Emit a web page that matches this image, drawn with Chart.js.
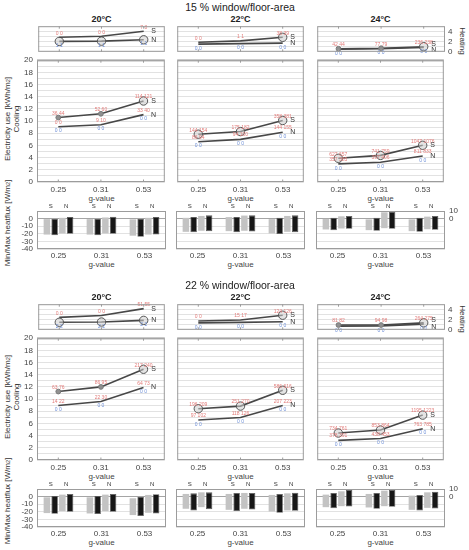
<!DOCTYPE html>
<html>
<head>
<meta charset="utf-8">
<script src="https://cdn.jsdelivr.net/npm/chart.js@4.4.1/dist/chart.umd.min.js"></script>
<style>
body { margin: 0; background: #fff; font-family: "Liberation Sans", Arial, sans-serif; color: #333; }
#page { position: relative; width: 469px; height: 550px; overflow: hidden; }
canvas { position: absolute; }
.t { position: absolute; white-space: nowrap; line-height: 1; transform: translate(-50%, -50%); }
.rl { transform: translate(-50%, -50%) rotate(-90deg); }
.rr { transform: translate(-50%, -50%) rotate(90deg); }
sup { font-size: 70%; vertical-align: 40%; line-height: 0; }
</style>
</head>
<body>
<div id="page"></div>
<script>
const gValues = ['0.25', '0.31', '0.53'];
const temps = ['20°C', '22°C', '24°C'];
const setTitles = ['15 % window/floor-area', '22 % window/floor-area'];

// heating [temp][g], kWh/m2
const heatS15 = [[2.83, 3.04, 4.0], [1.87, 2.13, 2.83], [0.59, 0.69, 1.0]];
const heatN15 = [[2.03, 2.08, 2.35], [1.5, 1.6, 1.7], [0.53, 0.6, 0.85]];
const heatS22 = [[2.43, 2.8, 4.13], [1.73, 1.9, 2.85], [0.93, 0.93, 1.36]];
const heatN22 = [[1.47, 1.52, 1.84], [1.36, 1.45, 1.57], [0.72, 0.77, 1.1]];

// cooling [temp][g], kWh/m2
const coolS15 = [[10.58, 11.2, 13.3], [7.85, 8.28, 10.1], [3.89, 4.37, 6.03]];
const coolN15 = [[9.08, 9.4, 11.06], [6.62, 7.0, 8.17], [2.97, 3.25, 4.26]];
const coolS22 = [[11.24, 12.0, 14.9], [8.42, 8.85, 11.45], [4.43, 4.92, 7.37]];
const coolN22 = [[8.96, 9.6, 11.9], [6.57, 6.99, 8.96], [3.22, 3.54, 5.13]];

// small point labels
const heatRed15 = [['0 0', '0 0', '7 8'], ['0 0', '1 1', '38 39'], ['42 44', '77 79', '236 238']];
const heatBlue15 = [['1 1', '1 1', '1 1'], ['0 0', '0 0', '0 0'], ['0 0', '0 0', '0 0']];
const heatRed22 = [['0 0', '0 0', '51 55'], ['0 0', '15 17', '124 126'], ['81 82', '94 98', '264 275']];
const heatBlue22 = [['2 2', '2 2', '2 2'], ['0 0', '0 0', '0 0'], ['0 0', '0 0', '0 0']];
const coolRedS15 = [['36 44', '52 60', '114 121'], ['144 154', '175 182', '358 381'], ['627 657', '741 759', '1047 1076']];
const coolRedN15 = [['0 0', '9 10', '33 40'], ['86 94', '94 100', '144 155'], ['357 385', '397 406', '811 833']];
const coolBlue15 = [['0 0', '0 0', '0 0'], ['0 0', '0 0', '0 0'], ['0 0', '0 0', '0 0']];
const coolRedS22 = [['63 76', '86 95', '217 240'], ['196 209', '251 270', '586 616'], ['734 761', '853 864', '1195 1223']];
const coolRedN22 = [['14 22', '22 30', '64 73'], ['97 102', '118 126', '207 223'], ['378 391', '438 453', '763 785']];
const coolBlue22 = [['0 0', '0 0', '0 0'], ['0 0', '0 0', '0 0'], ['0 0', '0 0', '0 0']];

// min/max heatflux [temp][g] = [min, max], W/m2
const fluxGrayS15 = [[[-21, 0], [-21, 0], [-22.5, -1]], [[-17.4, 1], [-16.5, 2], [-19.5, 0]], [[-14.3, -0.4], [-15.2, -1], [-16.5, -1]]];
const fluxBlackS15 = [[[-22, 0], [-22, 0], [-24, 0]], [[-18, 2], [-18, 2], [-20.4, 1]], [[-15.2, 1], [-16, 1], [-17.4, 1]]];
const fluxGrayN15 = [[[-19.5, 1], [-19.5, 1.5], [-21, 1]], [[-16, 3.5], [-16, 4], [-17.4, 3.5]], [[-13, 3], [-12.6, 8.3], [-14, 2.6]]];
const fluxBlackN15 = [[[-20, 2], [-20, 2.5], [-21, 2]], [[-16.5, 4.3], [-17, 4.3], [-17.8, 4.3]], [[-13.5, 3.5], [-13.5, 9], [-14.8, 3.5]]];
const fluxGrayS22 = [[[-21.7, -0.9], [-22.2, -0.9], [-24.3, -2.2]], [[-16, 3.5], [-17.4, 3.5], [-19.6, 2.2]], [[-13.9, 2.6], [-14.3, 3.5], [-17.4, 1.3]]];
const fluxBlackS22 = [[[-22.6, 0.9], [-23, 0.9], [-25.6, 0]], [[-18.2, 4.3], [-19.1, 4.8], [-21.3, 3.5]], [[-15.2, 4.8], [-16, 4.8], [-18.2, 2.2]]];
const fluxGrayN22 = [[[-19.1, 2.6], [-19.1, 2.6], [-21.3, 2.2]], [[-13.9, 5.6], [-16, 4.8], [-18.2, 4.3]], [[-12.6, 7], [-12.6, 7.8], [-14.8, 5.6]]];
const fluxBlackN22 = [[[-20, 3.5], [-20, 3.5], [-22.2, 3]], [[-16.5, 5.6], [-17, 4.8], [-18.7, 5.2]], [[-13, 8.7], [-13.5, 8.7], [-15.6, 6.5]]];

const heatS = [heatS15, heatS22], heatN = [heatN15, heatN22];
const coolS = [coolS15, coolS22], coolN = [coolN15, coolN22];
const heatRed = [heatRed15, heatRed22], heatBlue = [heatBlue15, heatBlue22];
const coolRedS = [coolRedS15, coolRedS22], coolRedN = [coolRedN15, coolRedN22], coolBlue = [coolBlue15, coolBlue22];
const fluxGrayS = [fluxGrayS15, fluxGrayS22], fluxBlackS = [fluxBlackS15, fluxBlackS22];
const fluxGrayN = [fluxGrayN15, fluxGrayN22], fluxBlackN = [fluxBlackN15, fluxBlackN22];

// marker style per point: 0 none, 1 small dot, 2 open circle
const markHeatS = [[0, 0, 0], [0, 0, 2], [1, 1, 2]];
const markHeatN = [[2, 2, 2], [0, 0, 0], [0, 0, 0]];
const markCoolS = [[1, 1, 2], [2, 2, 2], [2, 2, 2]];
const markNone = [0, 0, 0];

const colLeft = [37, 176, 316], colW = 129;
const setTop = [0, 278];
const RED = '#e27c7a', BLUE = '#6f90d8', LINE = '#474747', GRID = '#e2e2e2';
const tickFont = { size: 8 };

Chart.defaults.font.family = '"Liberation Sans", Arial, sans-serif';
Chart.defaults.color = '#444';

const page = document.getElementById('page');

function addText(html, x, y, css, cls) {
    const d = document.createElement('div');
    d.className = 't' + (cls ? ' ' + cls : '');
    d.innerHTML = html;
    d.style.cssText = `left:${x}px;top:${y}px;` + css;
    page.appendChild(d);
}

// draws the panel frame, small category ticks and an optional break band
const frame = {
    id: 'frame',
    afterDraw(chart, args, opts) {
        const { ctx, chartArea: a } = chart;
        ctx.save();
        if (opts.band) {
            ctx.fillStyle = '#c9c9c9';
            ctx.fillRect(a.left, a.top - 1.2, a.right - a.left, 2.4);
        }
        ctx.strokeStyle = '#9c9c9c';
        ctx.lineWidth = 1;
        ctx.strokeRect(a.left + 0.5, a.top + 0.5, a.right - a.left - 1, a.bottom - a.top - 1);
        if (opts.ticks) {
            const xs = chart.scales.x;
            gValues.forEach((_, i) => {
                const px = xs.getPixelForValue(i);
                ctx.beginPath();
                ctx.moveTo(px, a.top); ctx.lineTo(px, a.top + 2.5);
                ctx.moveTo(px, a.bottom); ctx.lineTo(px, a.bottom - 2.5);
                ctx.stroke();
            });
        }
        ctx.restore();
    }
};

// small texts anchored on data points
const annot = {
    id: 'annot',
    afterDatasetsDraw(chart, args, opts) {
        const ctx = chart.ctx;
        ctx.save();
        ctx.textAlign = 'center';
        ctx.textBaseline = 'middle';
        (opts.items || []).forEach(it => {
            const meta = chart.getDatasetMeta(it.ds);
            ctx.font = it.font || '5px "Liberation Sans", Arial, sans-serif';
            ctx.fillStyle = it.color;
            it.texts.forEach((t, i) => {
                if (!t) return;
                const p = meta.data[i];
                ctx.fillText(t, p.x + (it.dx || 0), p.y + (it.dy || 0));
            });
        });
        if (opts.pairs) {
            ctx.font = '6px "Liberation Sans", Arial, sans-serif';
            ctx.fillStyle = '#333';
            const a = chart.chartArea;
            [[0, 1, 'S'], [2, 3, 'N']].forEach(([d0, d1, lab]) => {
                const m0 = chart.getDatasetMeta(d0), m1 = chart.getDatasetMeta(d1);
                m0.data.forEach((b, i) => ctx.fillText(lab, (b.x + m1.data[i].x) / 2, a.top - 4.5));
            });
        }
        ctx.restore();
    }
};

Chart.register(frame, annot);

function makeChart(rect, pad, config) {
    const c = document.createElement('canvas');
    const w = rect.w + pad.l + pad.r, h = rect.h + pad.t + pad.b;
    c.width = w; c.height = h;
    c.style.left = (rect.x - pad.l) + 'px';
    c.style.top = (rect.y - pad.t) + 'px';
    c.style.width = w + 'px';
    c.style.height = h + 'px';
    page.appendChild(c);
    const o = config.options;
    const lp = { left: pad.l, right: pad.r, top: pad.t, bottom: pad.b };
    // each visible axis takes exactly the padding of its side, so the plot area is rect
    Object.entries(o.scales).forEach(([key, s]) => {
        if (s.display === false) return;
        const side = key === 'x' ? 'bottom' : (s.position || 'left');
        const size = lp[side];
        lp[side] = 0;
        s.afterFit = sc => {
            if (sc.isHorizontal()) sc.height = size; else sc.width = size;
            sc.paddingLeft = sc.paddingRight = sc.paddingTop = sc.paddingBottom = 0;
        };
    });
    o.responsive = false;
    o.animation = false;
    o.events = [];
    o.layout = { padding: lp };
    o.plugins = Object.assign({ legend: { display: false }, tooltip: { enabled: false } }, o.plugins);
    return new Chart(c, config);
}

function lineSet(label, data, mark) {
    return {
        label, data, borderColor: LINE, borderWidth: 1.6, tension: 0, clip: false,
        pointRadius: mark.map(m => m === 2 ? 4.2 : m === 1 ? 2.4 : 0),
        pointBackgroundColor: mark.map(m => m === 2 ? 'rgba(205,205,205,0.55)' : '#909090'),
        pointBorderColor: mark.map(m => m === 2 ? '#555' : '#777'),
        pointBorderWidth: 1
    };
}

function heatChart(s, c, rect) {
    const right = c === 2;
    const endDy = c === 2 ? [-2.6, 2.6] : [0, 0];
    makeChart(rect, { l: 4, r: right ? 14 : 4, t: 4, b: 0 }, {
        type: 'line',
        data: {
            labels: gValues,
            datasets: [lineSet('S', heatS[s][c], markHeatS[c]), lineSet('N', heatN[s][c], markHeatN[c])]
        },
        options: {
            scales: {
                x: { type: 'category', offset: true, display: false },
                y: {
                    min: 0, max: 5, position: right ? 'right' : 'left',
                    border: { display: false },
                    grid: { color: GRID, drawTicks: false },
                    ticks: {
                        display: right, stepSize: 1, autoSkip: false, padding: 3, font: tickFont,
                        callback: v => (v % 2 === 0 && v < 5) ? v : ''
                    }
                }
            },
            plugins: {
                frame: { ticks: true },
                annot: {
                    items: [
                        { ds: 0, texts: heatRed[s][c], color: RED, dy: -4 },
                        { ds: 1, texts: heatBlue[s][c], color: BLUE, dy: 4.3 },
                        { ds: 0, texts: ['', '', 'S'], color: '#333', dx: 10, dy: endDy[0], font: '7px "Liberation Sans", Arial, sans-serif' },
                        { ds: 1, texts: ['', '', 'N'], color: '#333', dx: 10, dy: endDy[1], font: '7px "Liberation Sans", Arial, sans-serif' }
                    ]
                }
            }
        }
    });
}

function coolChart(s, c, rect) {
    const left = c === 0;
    makeChart(rect, { l: left ? 22 : 4, r: 4, t: 2, b: 12 }, {
        type: 'line',
        data: {
            labels: gValues,
            datasets: [lineSet('S', coolS[s][c], markCoolS[c]), lineSet('N', coolN[s][c], markNone)]
        },
        options: {
            scales: {
                x: {
                    type: 'category', offset: true,
                    border: { display: false },
                    grid: { display: false, drawTicks: false },
                    ticks: { padding: 2.5, font: tickFont, maxRotation: 0, autoSkip: false }
                },
                y: {
                    min: 0, max: 20,
                    border: { display: false },
                    grid: { color: GRID, drawTicks: false },
                    ticks: {
                        display: left, stepSize: 1, autoSkip: false, padding: 4, font: tickFont,
                        callback: v => v % 2 === 0 ? v : ''
                    }
                }
            },
            plugins: {
                frame: { ticks: true, band: true },
                annot: {
                    items: [
                        { ds: 0, texts: coolRedS[s][c], color: RED, dy: -4 },
                        { ds: 1, texts: coolRedN[s][c], color: RED, dy: -4.3 },
                        { ds: 1, texts: coolBlue[s][c], color: BLUE, dy: 4.3 },
                        { ds: 0, texts: ['', '', 'S'], color: '#333', dx: 10, font: '7px "Liberation Sans", Arial, sans-serif' },
                        { ds: 1, texts: ['', '', 'N'], color: '#333', dx: 10, font: '7px "Liberation Sans", Arial, sans-serif' }
                    ]
                }
            }
        }
    });
}

function fluxChart(s, c, rect) {
    const left = c === 0, right = c === 2;
    const bar = (data, black) => ({
        data, borderSkipped: false,
        backgroundColor: black ? '#171717' : '#c3c3c3',
        borderColor: black ? '#5c5c5c' : '#c3c3c3',
        borderWidth: black ? 0.8 : 0,
        categoryPercentage: 0.72, barPercentage: 0.84
    });
    makeChart(rect, { l: left ? 22 : 4, r: right ? 16 : 4, t: 10, b: 12 }, {
        type: 'bar',
        data: {
            labels: gValues,
            datasets: [
                bar(fluxGrayS[s][c], false), bar(fluxBlackS[s][c], true),
                bar(fluxGrayN[s][c], false), bar(fluxBlackN[s][c], true)
            ]
        },
        options: {
            scales: {
                x: {
                    border: { display: false },
                    grid: { display: false, drawTicks: false },
                    ticks: { padding: 2, font: tickFont, maxRotation: 0, autoSkip: false }
                },
                y: {
                    min: -40, max: 10, position: right ? 'right' : 'left',
                    border: { display: false },
                    grid: { drawTicks: false, color: ctx => (ctx.tick && ctx.tick.value === 0) ? '#a5a5a5' : GRID },
                    ticks: {
                        display: left || right, stepSize: 10, autoSkip: false, padding: 4, font: tickFont,
                        callback: v => left ? (v <= 0 ? v : '') : (v >= 0 ? v : '')
                    }
                }
            },
            plugins: { frame: {}, annot: { pairs: true } }
        }
    });
}

for (let s = 0; s < 2; s++) {
    const oy = setTop[s];
    addText(setTitles[s], 240, 7 + oy, 'font-size:10.5px;color:#222');
    addText('Electricity use [kWh/m<sup>2</sup>]', 7.5, 119 + oy, 'font-size:8px', 'rl');
    addText('Cooling', 16.5, 119 + oy, 'font-size:8px', 'rl');
    addText('Min/Max heatflux [W/m<sup>2</sup>]', 7.5, 223 + oy, 'font-size:8px', 'rl');
    addText('Heating', 462, 41 + oy, 'font-size:8px', 'rr');
    for (let c = 0; c < 3; c++) {
        const x = colLeft[c], cx = x + colW / 2;
        addText(temps[c], cx, 19 + oy, 'font-size:9px;font-weight:bold;color:#222');
        addText('g-value', cx, 198.5 + oy, 'font-size:8px;color:#444');
        addText('g-value', cx, 264.5 + oy, 'font-size:8px;color:#444');
        heatChart(s, c, { x, y: 24.5 + oy, w: colW, h: 32 });
        coolChart(s, c, { x, y: 56.5 + oy, w: colW, h: 125 });
        fluxChart(s, c, { x, y: 210.6 + oy, w: colW, h: 38.4 });
    }
}
</script>
</body>
</html>
